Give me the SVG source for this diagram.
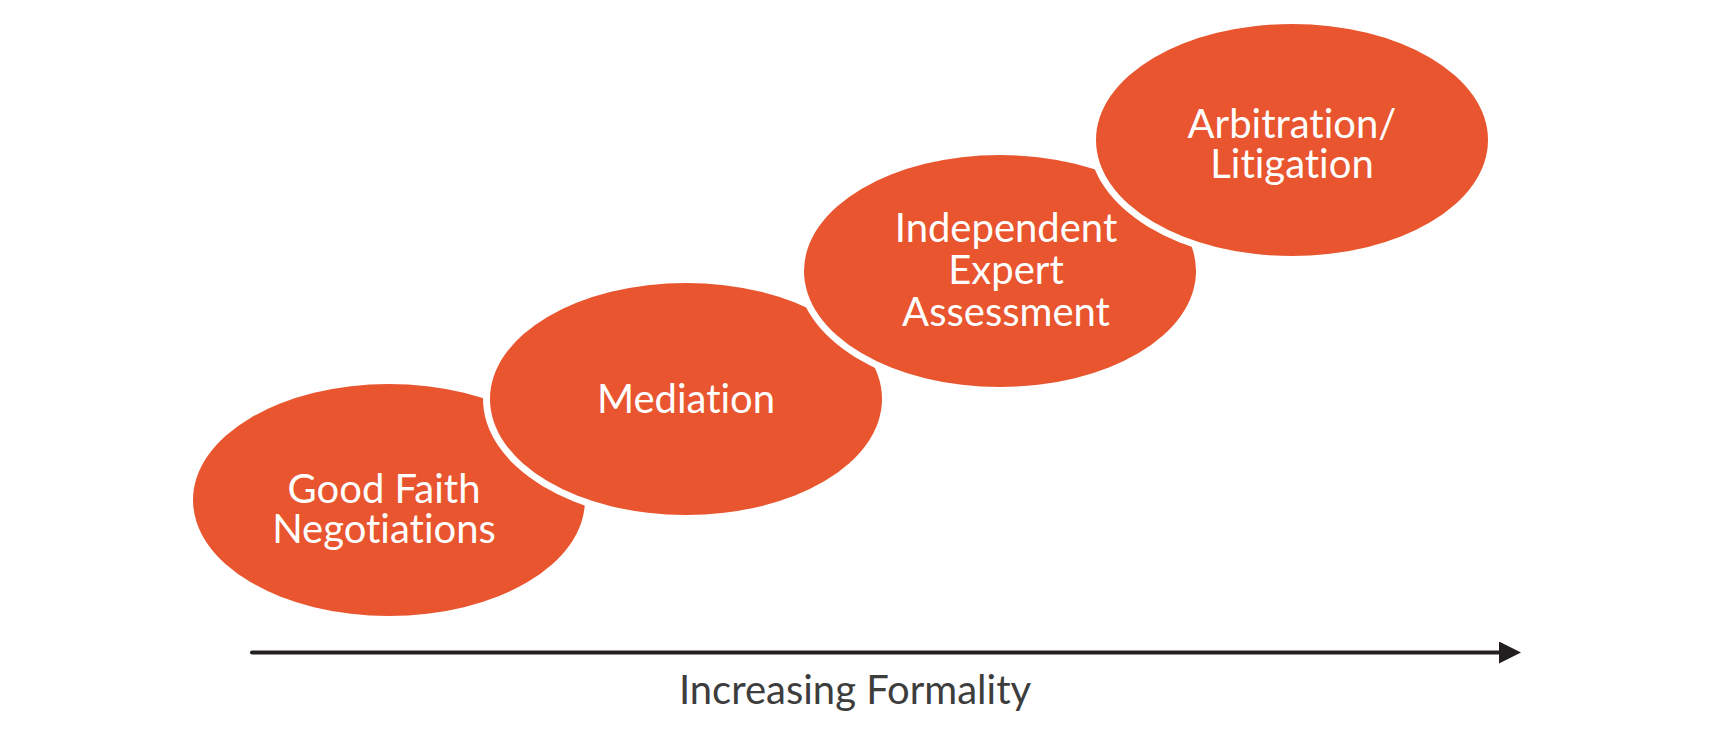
<svg xmlns="http://www.w3.org/2000/svg" width="1709" height="735" viewBox="0 0 1709 735">
<style>
.gap{fill:#ffffff}
.blob{fill:#E8552E}
.lbl{fill:#ffffff;font-family:Lato,"Open Sans","Liberation Sans",sans-serif;font-size:40px;text-anchor:middle;font-variant-ligatures:none;font-feature-settings:"liga" 0}
.axis{stroke:#231F20;stroke-width:4;stroke-linecap:round;fill:none}
.axlbl{fill:#3d3d3d;font-family:Lato,"Open Sans","Liberation Sans",sans-serif;font-size:40px;text-anchor:middle;font-variant-ligatures:none}
</style>
<defs>
<marker id="ah" markerUnits="userSpaceOnUse" markerWidth="24" markerHeight="24" refX="0" refY="11" orient="auto">
<path d="M0,0 L22,11 L0,22 Z" fill="#231F20"/>
</marker>
</defs>
<rect width="1709" height="735" fill="#ffffff"/>
<g id="node-good-faith">
<ellipse class="blob" cx="389" cy="500" rx="196" ry="116"/>
<text class="lbl" x="384" y="503">Good Faith</text>
<text class="lbl" x="384" y="543">Negotiations</text>
</g>
<g id="node-mediation">
<ellipse class="gap" cx="686" cy="399" rx="203" ry="123"/>
<ellipse class="blob" cx="686" cy="399" rx="196" ry="116"/>
<text class="lbl" x="686" y="413">Mediation</text>
</g>
<g id="node-expert">
<ellipse class="gap" cx="1000" cy="271" rx="203" ry="123"/>
<ellipse class="blob" cx="1000" cy="271" rx="196" ry="116"/>
<text class="lbl" x="1006" y="242">Independent</text>
<text class="lbl" x="1006" y="284">Expert</text>
<text class="lbl" x="1006" y="326">Assessment</text>
</g>
<g id="node-arbitration">
<ellipse class="gap" cx="1292" cy="140" rx="203" ry="123"/>
<ellipse class="blob" cx="1292" cy="140" rx="196" ry="116"/>
<text class="lbl" x="1292" y="138">Arbitration/</text>
<text class="lbl" x="1292" y="178">Litigation</text>
</g>
<g id="connectors">
<line class="axis" x1="252" y1="652.5" x2="1499" y2="652.5" marker-end="url(#ah)"/>
</g>
<text class="axlbl" x="855" y="704">Increasing Formality</text>
</svg>
